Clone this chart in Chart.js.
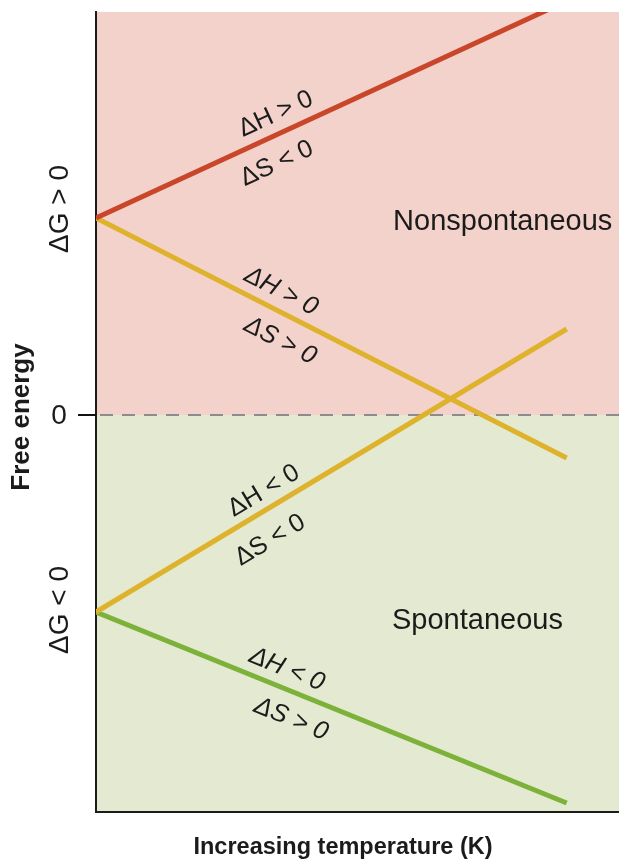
<!DOCTYPE html>
<html>
<head>
<meta charset="utf-8">
<title>Free energy vs temperature</title>
<script src="https://cdn.jsdelivr.net/npm/chart.js@4.4.1/dist/chart.umd.min.js"></script>
<style>
  html, body { margin: 0; padding: 0; background: #fff; }
  #wrap { width: 619px; height: 861px; position: relative; }
</style>
</head>
<body>
<div id="wrap"><canvas id="gibbsChart"></canvas></div>
<script>
// ---- data (y in arbitrary free-energy units) ----
const temperature = [0, 9];
const hPosSNeg = [1.97, 4.14];    // red, always nonspontaneous
const hPosSPos = [1.97, -0.43];   // yellow, falling
const hNegSNeg = [-1.97, 0.86];   // yellow, rising
const hNegSPos = [-1.97, -3.88];  // green, always spontaneous

const seriesColors = ['#c9462b', '#deb22c', '#deb22c', '#7db23a'];
const yTickValues = [2.06, 0, -1.95];
const yTickLabels = ['ΔG > 0', '0', 'ΔG < 0'];

// text written along each line: [series, x position, vertical offset px, text]
const lineNotes = [
  [0, 3.44, -21, 'ΔH > 0'], [0, 3.46, 29, 'ΔS < 0'],
  [1, 3.54, -21, 'ΔH > 0'], [1, 3.52, 29, 'ΔS > 0'],
  [2, 3.21, -20, 'ΔH < 0'], [2, 3.33, 33, 'ΔS < 0'],
  [3, 3.65, -20, 'ΔH < 0'], [3, 3.73, 28, 'ΔS > 0']
];
const regionNotes = [
  [5.68, 1.93, 'Nonspontaneous'],
  [5.66, -2.06, 'Spontaneous']
];

const FONT = '"Liberation Sans", Arial, Helvetica, sans-serif';
const INK = '#1b1b1b';

function pts(ys) {
  return temperature.map((t, i) => ({ x: t, y: ys[i] }));
}

const decor = {
  id: 'freeEnergyDecor',
  beforeDraw(chart) {
    const { ctx, chartArea: a, scales: { y } } = chart;
    const zero = y.getPixelForValue(0);
    ctx.save();
    ctx.fillStyle = '#f2d2ca';
    ctx.fillRect(a.left, a.top, a.right - a.left, zero - a.top);
    ctx.fillStyle = '#e4ead2';
    ctx.fillRect(a.left, zero, a.right - a.left, a.bottom - zero);
    ctx.restore();
  },
  beforeDatasetsDraw(chart) {
    const { ctx, chartArea: a, scales: { y } } = chart;
    const zero = y.getPixelForValue(0);
    ctx.save();
    ctx.strokeStyle = '#8c8c8c';
    ctx.lineWidth = 2;
    ctx.setLineDash([13, 9]);
    ctx.beginPath();
    ctx.moveTo(a.left + 4, zero);
    ctx.lineTo(a.right, zero);
    ctx.stroke();
    ctx.restore();
  },
  afterDatasetsDraw(chart) {
    const { ctx, scales: { x, y } } = chart;
    ctx.save();
    ctx.fillStyle = INK;
    ctx.textAlign = 'center';
    ctx.textBaseline = 'middle';
    lineNotes.forEach(([si, xv, dy, txt]) => {
      const d = chart.data.datasets[si].data;
      const x0 = x.getPixelForValue(d[0].x), y0 = y.getPixelForValue(d[0].y);
      const x1 = x.getPixelForValue(d[1].x), y1 = y.getPixelForValue(d[1].y);
      const ang = Math.atan2(y1 - y0, x1 - x0);
      const px = x.getPixelForValue(xv);
      const py = y0 + (y1 - y0) * (px - x0) / (x1 - x0) + dy;
      ctx.save();
      ctx.translate(px, py);
      ctx.rotate(ang);
      ctx.font = (ang > 0 ? 'italic ' : '') + '25.5px ' + FONT;
      ctx.fillText(txt, 0, 0);
      ctx.restore();
    });
    ctx.textAlign = 'left';
    ctx.font = '29px ' + FONT;
    regionNotes.forEach(([xv, yv, txt]) => {
      ctx.fillText(txt, x.getPixelForValue(xv), y.getPixelForValue(yv));
    });
    ctx.restore();
  },
  afterDraw(chart) {
    const { ctx, chartArea: a, scales: { y } } = chart;
    ctx.save();
    ctx.fillStyle = INK;
    ctx.textAlign = 'center';
    ctx.textBaseline = 'middle';
    // y tick labels (rotated ΔG ones, upright zero)
    yTickValues.forEach((v, i) => {
      const py = y.getPixelForValue(v);
      ctx.save();
      ctx.translate(59, py);
      if (yTickLabels[i] !== '0') ctx.rotate(-Math.PI / 2);
      ctx.font = '28px ' + FONT;
      ctx.fillText(yTickLabels[i], 0, 1);
      ctx.restore();
    });
    // little tick at zero
    const zero = y.getPixelForValue(0);
    ctx.strokeStyle = '#111';
    ctx.lineWidth = 2;
    ctx.beginPath();
    ctx.moveTo(78, zero);
    ctx.lineTo(a.left, zero);
    ctx.stroke();
    // axis titles
    ctx.font = 'bold 26px ' + FONT;
    ctx.save();
    ctx.translate(22, 417);
    ctx.rotate(-Math.PI / 2);
    ctx.fillText('Free energy', 0, 0);
    ctx.restore();
    ctx.font = 'bold 23.5px ' + FONT;
    ctx.fillText('Increasing temperature (K)', 343, 848);
    ctx.restore();
  }
};

new Chart(document.getElementById('gibbsChart'), {
  type: 'line',
  data: {
    datasets: [hPosSNeg, hPosSPos, hNegSNeg, hNegSPos].map((ys, i) => ({
      data: pts(ys),
      borderColor: seriesColors[i],
      borderWidth: 5,
      pointRadius: 0,
      clip: 0,
      tension: 0
    }))
  },
  options: {
    responsive: true,
    maintainAspectRatio: false,
    animation: false,
    devicePixelRatio: 1,
    layout: { padding: { top: 12, left: 0, right: 0, bottom: 0 } },
    plugins: { legend: { display: false }, tooltip: { enabled: false } },
    scales: {
      x: {
        type: 'linear', min: 0, max: 10,
        grid: { display: false },
        ticks: { display: false },
        border: { display: true, color: '#1b1b1b', width: 2 },
        afterFit: s => { s.height = 49; }
      },
      y: {
        type: 'linear', min: -3.97, max: 4.03,
        grid: { display: false },
        ticks: { display: false },
        border: { display: true, color: '#1b1b1b', width: 2 },
        afterFit: s => { s.width = 96; }
      }
    }
  },
  plugins: [decor]
});
</script>
</body>
</html>
